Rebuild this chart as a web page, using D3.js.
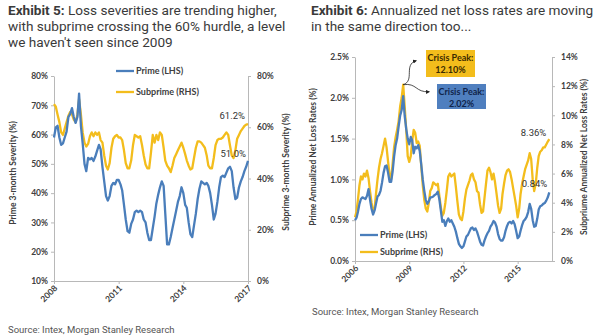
<!DOCTYPE html>
<html>
<head>
<meta charset="utf-8">
<script src="https://cdn.jsdelivr.net/npm/d3@7"></script>
<style>
  body { margin: 0; background: #fff; }
  svg { display: block; }
  .title { font-family: Roboto, "Open Sans", sans-serif; font-size: 13.6px; fill: #3a3a3a; }
  .title .ex { font-weight: bold; }
  .axis text { font-family: Lato, "Open Sans", sans-serif; font-size: 8.5px; font-weight: bold; fill: #404040; }
  .axis path, .axis line { stroke: #b8b8b8; }
  .ytitle { font-family: Lato, "Open Sans", sans-serif; font-size: 8.5px; font-weight: bold; fill: #404040; }
  .legend { font-family: Lato, "Open Sans", sans-serif; font-size: 9px; font-weight: bold; fill: #404040; }
  .endlab { font-family: Roboto, "Open Sans", sans-serif; font-size: 9.5px; fill: #333; }
  .source { font-family: Roboto, "Open Sans", sans-serif; font-size: 9.5px; fill: #555; }
  .callout { font-family: Lato, "Open Sans", sans-serif; font-size: 9px; font-weight: bold; }
</style>
</head>
<body>
<svg id="chart" width="600" height="336"></svg>
<script>
/* Exhibit 5: 3-month severity, monthly Jan 2008 - Jan 2017 */
const sevStart = new Date(2008, 0, 1);
const sevPrime = [
  59, 62.5, 63, 59, 56.5, 57, 59, 61, 66, 67, 69, 66,
  64, 66, 74, 63, 57, 50, 47.5, 52, 51.5, 52, 51, 52.5,
  54.5, 56.5, 55, 49, 44, 39, 37.5, 39, 42.5, 43.5, 43, 44.5,
  44.5, 43, 41, 36, 31, 27, 26.5, 29.5, 31, 33.5, 34, 33.5,
  34, 33.5, 31, 30, 26.5, 24, 24, 28, 32, 36.5, 39.5, 42,
  44, 42.5, 33, 22.5, 22.5, 25, 28, 31, 34, 37, 39, 42,
  40, 36, 35, 30, 26, 25, 29, 33, 38, 41.5, 44, 43.5,
  43, 43.5, 42.5, 40, 36, 31, 33, 37, 42, 45.5, 46, 45.5,
  47, 48.5, 49, 47.5, 42, 38, 38.5, 42, 44, 45.5, 47.5, 49,
  51
];
const sevSub = [
  69, 68, 65, 62, 58, 57, 59.5, 62, 64.5, 66, 65, 63,
  62, 65, 71, 65, 58, 54, 52.5, 53.5, 56.5, 58, 56.5, 58,
  57, 58, 55, 54, 49, 45, 43.5, 46, 52, 55.5, 56.5, 57,
  56, 56, 55, 51, 46, 44, 44, 47, 53, 57, 56.5, 56,
  56.5, 53, 49, 45.5, 44, 44, 50, 57, 54, 57, 55, 58,
  57, 52, 47, 45, 44, 42.5, 45, 48, 49.5, 51, 52.5, 54,
  52, 49.5, 47, 45, 43.5, 44, 48, 52, 54.5, 54.5, 54, 53,
  52, 49, 45, 44, 44, 48, 53, 55, 55.5, 55.5, 56, 57,
  58, 57, 53, 49, 48, 51, 55.5, 57, 58.5, 59.5, 60.5, 61,
  61.2
];
const sevPrimeTicks = [10, 20, 30, 40, 50, 60, 70, 80];
const sevSubTicks = [0, 20, 40, 60, 80];
const sevYears = [2008, 2011, 2014, 2017];

/* Exhibit 6: annualized net loss rates, monthly Jan 2006 - Oct 2016 */
const nlStart = new Date(2006, 0, 1);
const nlPrime = [
  0.50, 0.53, 0.60, 0.70, 0.76, 0.78, 0.77, 0.76, 0.80, 0.88, 0.75, 0.64,
  0.57, 0.62, 0.70, 0.79, 0.81, 0.86, 0.96, 1.08, 1.16, 1.17, 1.08, 0.97,
  0.97, 1.10, 1.28, 1.42, 1.50, 1.65, 1.78, 1.85, 2.02, 1.78, 1.62, 1.50,
  1.43, 1.52, 1.48, 1.32, 1.40, 1.38, 1.42, 1.35, 1.18, 1.00, 0.86, 0.75,
  0.70, 0.73, 0.78, 0.78, 0.79, 0.81, 0.82, 0.85, 0.76, 0.62, 0.48, 0.50,
  0.43, 0.49, 0.52, 0.48, 0.50, 0.46, 0.42, 0.36, 0.28, 0.21, 0.18, 0.16,
  0.18, 0.24, 0.30, 0.32, 0.36, 0.40, 0.41, 0.38, 0.40, 0.36, 0.30, 0.24,
  0.20, 0.19, 0.25, 0.30, 0.34, 0.37, 0.42, 0.45, 0.49, 0.47, 0.42, 0.33,
  0.27, 0.25, 0.25, 0.29, 0.37, 0.43, 0.47, 0.48, 0.46, 0.49, 0.45, 0.37,
  0.28, 0.30, 0.37, 0.44, 0.49, 0.51, 0.54, 0.60, 0.70, 0.64, 0.50, 0.42,
  0.43, 0.52, 0.63, 0.67, 0.68, 0.70, 0.71, 0.74, 0.78, 0.84
];
const nlSub = [
  3.0, 3.4, 4.2, 5.2, 5.8, 5.6, 6.0, 5.8, 6.2, 5.7, 4.8, 4.0,
  3.4, 3.6, 4.6, 5.6, 6.4, 7.0, 7.4, 7.9, 8.4, 7.8, 6.8, 5.9,
  5.6, 6.7, 7.8, 8.5, 9.0, 9.6, 10.6, 11.2, 12.1, 10.6, 9.0, 7.2,
  6.8, 7.2, 8.2, 9.0, 8.8, 8.1, 8.2, 7.9, 6.5, 5.2, 4.2, 3.6,
  3.4, 4.0, 4.8, 5.0, 5.4, 5.3, 5.2, 5.3, 4.5, 3.7, 3.1, 3.3,
  4.0, 4.9, 5.8, 6.0, 5.8, 5.9, 6.0, 5.1, 4.1, 3.2, 2.9, 2.8,
  3.4, 4.3, 4.9, 5.2, 5.5, 5.9, 6.0, 5.6, 5.4, 4.8, 4.7, 3.9,
  3.3, 3.4, 4.3, 5.3, 6.2, 6.4, 6.1, 5.6, 6.0, 5.4, 4.6, 3.8,
  3.3, 3.6, 4.6, 5.3, 5.9, 6.2, 6.3, 6.1, 5.6, 5.0, 4.4, 3.8,
  3.0, 3.6, 4.6, 5.3, 5.8, 6.3, 6.6, 6.9, 7.4, 7.0, 5.6, 4.8,
  5.3, 6.4, 7.2, 7.5, 7.6, 7.8, 7.8, 8.0, 8.2, 8.36
];
const nlPrimeTicks = [0, 0.5, 1.0, 1.5, 2.0, 2.5];
const nlSubTicks = [0, 2, 4, 6, 8, 10, 12, 14];
const nlYears = [2006, 2009, 2012, 2015];

const BLUE = "#4a7ebb";
const GOLD = "#f3bd1c";

const svg = d3.select("#chart");

function withDates(start, vals) {
  return vals.map((v, i) => ({ date: d3.timeMonth.offset(start, i), v }));
}

function titleBlock(x, y, head, lines) {
  const t = svg.append("text").attr("class", "title").attr("x", x).attr("y", y);
  lines.forEach((ln, i) => {
    const ts = t.append("tspan").attr("x", x).attr("dy", i === 0 ? 0 : 16);
    if (i === 0) {
      ts.append("tspan").attr("class", "ex").text(head);
      ts.append("tspan").text(ln);
    } else ts.text(ln);
  });
}

function yTitle(x, y, txt) {
  svg.append("text").attr("class", "ytitle")
    .attr("transform", `translate(${x},${y}) rotate(-90)`)
    .attr("text-anchor", "middle").text(txt);
}

function drawPanel(cfg) {
  const { x, yL, yR } = cfg;
  const g = svg.append("g");

  g.append("g").attr("class", "axis")
    .attr("transform", `translate(${x.range()[0]},0)`)
    .call(d3.axisLeft(yL).tickValues(cfg.lTicks).tickSize(3).tickSizeOuter(0).tickFormat(cfg.lFmt));

  g.append("g").attr("class", "axis")
    .attr("transform", `translate(${x.range()[1]},0)`)
    .call(d3.axisRight(yR).tickValues(cfg.rTicks).tickSize(3).tickSizeOuter(0).tickFormat(cfg.rFmt))
    .selectAll("text").attr("x", 9);

  g.append("g").attr("class", "axis")
    .attr("transform", `translate(0,${yL.range()[0]})`)
    .call(d3.axisBottom(x).tickValues(cfg.years.map(y => new Date(y, 0, 1)))
      .tickSize(3).tickSizeOuter(0).tickFormat(d3.timeFormat("%Y")))
    .selectAll("text")
    .attr("transform", "rotate(-45)")
    .attr("text-anchor", "end")
    .attr("x", -3).attr("y", 5).attr("dy", "0.35em");

  const lineL = d3.line().x(d => x(d.date)).y(d => yL(d.v));
  const lineR = d3.line().x(d => x(d.date)).y(d => yR(d.v));

  g.append("path").datum(cfg.sub).attr("fill", "none").attr("stroke", GOLD)
    .attr("stroke-width", 2.3).attr("stroke-linejoin", "round").attr("d", lineR);
  g.append("path").datum(cfg.prime).attr("fill", "none").attr("stroke", BLUE)
    .attr("stroke-width", 2.3).attr("stroke-linejoin", "round").attr("d", lineL);

  // legend
  cfg.legend.forEach(l => {
    g.append("line").attr("x1", l.x).attr("x2", l.x + 18).attr("y1", l.y).attr("y2", l.y)
      .attr("stroke", l.color).attr("stroke-width", 2.3);
    g.append("text").attr("class", "legend").attr("x", l.x + 20).attr("y", l.y)
      .attr("dy", "0.35em").text(l.label);
  });

  // end-of-series value labels
  const lastP = cfg.prime[cfg.prime.length - 1];
  const lastS = cfg.sub[cfg.sub.length - 1];
  g.append("text").attr("class", "endlab").attr("text-anchor", "end")
    .attr("x", x(lastS.date) - 3).attr("y", yR(lastS.v) + cfg.subLabelDy).text(cfg.fmt(lastS.v));
  g.append("text").attr("class", "endlab").attr("text-anchor", "end")
    .attr("x", x(lastP.date) - 2).attr("y", yL(lastP.v) + cfg.primeLabelDy).text(cfg.fmt(lastP.v));
  return g;
}

// ---------- Exhibit 5 ----------
titleBlock(8, 15, "Exhibit 5:", ["  Loss severities are trending higher,",
  "with subprime crossing the 60% hurdle, a level", "we haven't seen since 2009"]);

const x5 = d3.scaleTime().domain([new Date(2008, 0, 1), new Date(2017, 0, 1)]).range([54, 248]);
const y5L = d3.scaleLinear().domain([10, 80]).range([281, 76]);
const y5R = d3.scaleLinear().domain([0, 80]).range([281, 76]);
drawPanel({
  x: x5, yL: y5L, yR: y5R,
  lTicks: sevPrimeTicks, rTicks: sevSubTicks, years: sevYears,
  lFmt: d => d + "%", rFmt: d => d + "%",
  prime: withDates(sevStart, sevPrime), sub: withDates(sevStart, sevSub),
  legend: [
    { x: 116, y: 71, color: BLUE, label: "Prime (LHS)" },
    { x: 116, y: 92, color: GOLD, label: "Subprime (RHS)" }
  ],
  fmt: v => v.toFixed(1) + "%",
  subLabelDy: -5, primeLabelDy: -4
});
yTitle(16, 173, "Prime 3-month Severity (%)");
yTitle(289, 172, "Subprime 3-month Severity (%)");
svg.append("text").attr("class", "source").attr("x", 8).attr("y", 333)
  .text("Source: Intex, Morgan Stanley Research");

// ---------- Exhibit 6 ----------
titleBlock(311, 15, "Exhibit 6:", ["  Annualized net loss rates are moving",
  "in the same direction too..."]);

const x6 = d3.scaleTime().domain([new Date(2006, 0, 1), new Date(2016, 10, 25)]).range([355, 552]);
const y6L = d3.scaleLinear().domain([0, 2.5]).range([261, 57]);
const y6R = d3.scaleLinear().domain([0, 14]).range([261, 57]);
const nlP = withDates(nlStart, nlPrime);
const nlS = withDates(nlStart, nlSub);
const g6 = drawPanel({
  x: x6, yL: y6L, yR: y6R,
  lTicks: nlPrimeTicks, rTicks: nlSubTicks, years: nlYears,
  lFmt: d => d.toFixed(1) + "%", rFmt: d => d + "%",
  prime: nlP, sub: nlS,
  legend: [
    { x: 360, y: 235, color: BLUE, label: "Prime (LHS)" },
    { x: 360, y: 252, color: GOLD, label: "Subprime (RHS)" }
  ],
  fmt: v => v.toFixed(2) + "%",
  subLabelDy: -3, primeLabelDy: -5
});
yTitle(316, 157, "Prime Annualized Net Loss Rates (%)");
yTitle(587, 157, "Subpriume Annualized Net Loss Rates (%)");
svg.append("text").attr("class", "source").attr("x", 312).attr("y", 315)
  .text("Source: Intex, Morgan Stanley Research");

// crisis peak callouts
svg.append("defs").append("marker").attr("id", "arr")
  .attr("viewBox", "0 0 10 10").attr("refX", 8).attr("refY", 5)
  .attr("markerWidth", 5).attr("markerHeight", 5).attr("orient", "auto")
  .append("path").attr("d", "M0,0L10,5L0,10z").attr("fill", "#222");

const peakS = nlS.reduce((a, b) => (b.v > a.v ? b : a));
const peakP = nlP.reduce((a, b) => (b.v > a.v ? b : a));
const px = x6(peakS.date), py = y6R(peakS.v);

g6.append("path").attr("fill", "none").attr("stroke", "#222").attr("stroke-width", 0.8)
  .attr("marker-end", "url(#arr)")
  .attr("d", `M${px},${py} C${px + 12},${py - 4} ${px},${py - 20} ${px + 13},${py - 24}`);
g6.append("path").attr("fill", "none").attr("stroke", "#222").attr("stroke-width", 0.8)
  .attr("marker-end", "url(#arr)")
  .attr("d", `M${px},${py} C${px + 14},${py - 2} ${px + 12},${py + 8} ${px + 26},${py + 7}`);

function callout(bx, by, w, h, fill, color, label) {
  g6.append("rect").attr("x", bx).attr("y", by).attr("width", w).attr("height", h).attr("fill", fill);
  const t = g6.append("text").attr("class", "callout").attr("fill", color).attr("text-anchor", "middle");
  t.append("tspan").attr("x", bx + w / 2).attr("y", by + 11).text("Crisis Peak:");
  t.append("tspan").attr("x", bx + w / 2).attr("y", by + 23).text(label);
}
callout(426, 50, 49, 27, GOLD, "#3a2a00", peakS.v.toFixed(2) + "%");
callout(437, 84, 49, 25, "#4f7fbf", "#10244a", peakP.v.toFixed(2) + "%");
</script>
</body>
</html>
